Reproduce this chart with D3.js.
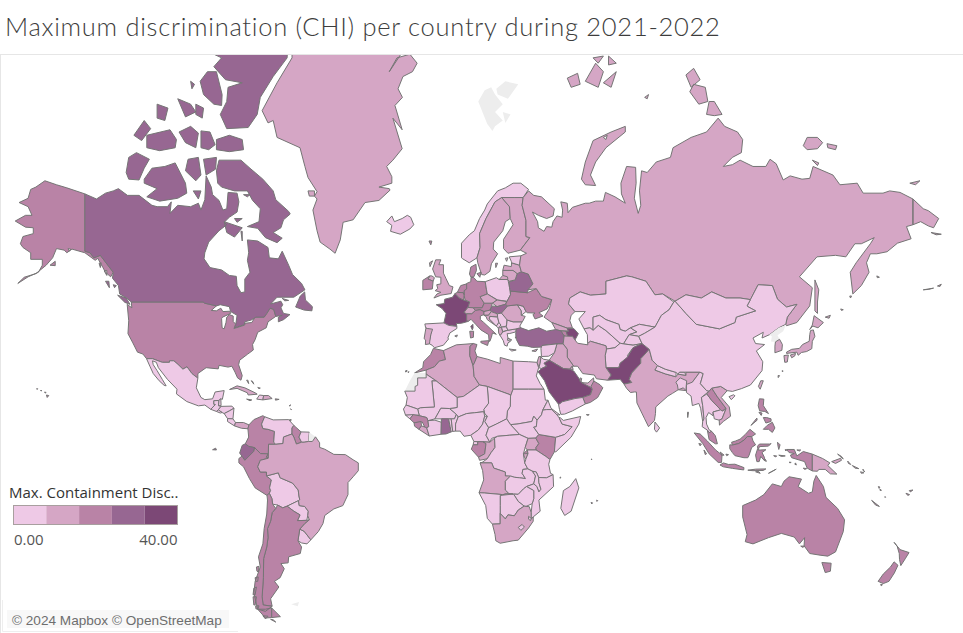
<!DOCTYPE html>
<html>
<head>
<meta charset="utf-8">
<script src="https://cdn.jsdelivr.net/npm/d3@7"></script>
<style>
  html, body { margin: 0; padding: 0; background: #fff; overflow: hidden; }
  svg { display: block; }
</style>
</head>
<body>
<div id="visual"></div>
<script>
// rows: country, max. containment discrimination (null = no data), then rings as flat lon,lat lists
const northAmerica = [
  ["United States", 21, [-141,69.6,-148,70.4,-152,70.8,-156.5,71.3,-160,70.5,-162,70.2,-163,69,-166.5,68.4,-163,67.8,-161.5,66.5,-164,66.5,-168,65.6,-164,64.6,-161,64.5,-161,63.5,-165,63,-166,61.7,-165,61,-162,60,-162,58.7,-157.5,58.7,-157.5,57.5,-159,56,-163,55,-167,53.5,-164.5,54.9,-160,55.7,-156,57.5,-153.5,59,-152,60.8,-149,60.5,-148,60,-146,60.7,-141,60,-137,58.5,-136,58.9,-134,57,-133,56,-131,55,-130,56,-135,59.5,-137.5,59,-139,60,-141,60.3],
    [-123,49,-95.15,49,-94.6,48.7,-90,48,-92,46.8,-90,46.7,-88.3,47.4,-87.5,46.5,-84.8,46.6,-84.5,46,-87.6,45,-88,44.6,-87.8,42,-87,41.7,-86.3,43.5,-86,45,-85,45.7,-83.5,45.3,-83.5,43.8,-82.5,43,-83.2,41.8,-79,42.8,-79,43.3,-76.3,43.5,-75,45,-71.5,45,-70.5,46,-69.2,47.4,-67.8,47.1,-67,45.2,-70,43.7,-70.7,42,-74,40.7,-75,38.5,-76,37,-75.7,35.3,-78,33.9,-81,32,-81.4,30.5,-80,26.8,-80.5,25.2,-81.8,26,-82.8,28,-84,30,-85.5,29.7,-89,30.3,-89.3,29.1,-94,29.5,-97.2,27.5,-97.2,25.9,-99.5,27.5,-101.4,29.8,-103,29,-104.9,30.6,-106.5,31.8,-108.2,31.8,-108.2,31.3,-111,31.3,-114.8,32.5,-117.1,32.5,-118.5,34,-120.6,34.6,-122.4,37.5,-124.3,40.3,-124,44,-124.6,48.4,-122.8,47.5],
    [-154.5,57.5,-152.5,58.3,-152.5,57.4], [-155.9,19.9,-155,19.7,-155.6,19], [-158.2,21.5,-157.7,21.4,-158,21.7], [-156.6,21,-156,20.8,-156.4,20.6], [-159.7,22.2,-159.3,22.2,-159.5,21.9], [-170.5,52.9,-169,53.3,-169.5,52.8], [-176,52,-172,52.4,-174,52.1], [-135.5,57.9,-134.7,58,-135,57], [-133.5,56.3,-132.5,56.4,-132.5,55.3], [-173,63.7,-169,63.4,-171,63.3], [-147.5,60.8,-146.5,60.7,-147,60.3]],
  ["Canada", 28, [-141,69.6,-136.5,68.9,-133,69.7,-130,70,-128,70.3,-124.5,69.4,-120,69.4,-115,68,-113,67.8,-109,67.8,-107.5,68.5,-108,66.8,-105,68,-100,67.8,-97,68.3,-96,67.3,-94.5,68.8,-94,71.9,-92,70.5,-91.5,69.5,-89,68.7,-87.5,67.3,-86,67.5,-85.5,69.8,-82,69.7,-81.3,68.5,-82,67,-85,66.2,-87,65.4,-86,65,-89,64,-93,62,-94.5,60,-94.8,58.8,-92.5,57,-88,56.5,-85,55.3,-82.3,55.1,-82,53,-80.5,51.3,-79,51.5,-79,54.5,-77,56,-78,58.5,-77.5,60,-78,62.4,-74,62.2,-70,61,-69.5,59,-66,58.8,-64.5,60.3,-62,57.5,-60.5,55.5,-57,53.5,-55.7,52,-60,50.2,-66.5,50.2,-69,48.5,-65,49.2,-64.3,48.3,-65,47.5,-64,46,-61.5,45.7,-64,44.3,-66,43.7,-66,45,-64.5,45.5,-67,45.2,-67.8,47.1,-69.2,47.4,-70.5,46,-71.5,45,-74.7,45,-76.5,44.2,-79,43.7,-79.2,42.9,-83,42,-82.5,43,-82,45.5,-84.5,46.5,-85,47.8,-88.5,48.3,-90,48,-94.6,48.7,-95.15,49,-123,49,-124.8,50,-127.5,51,-128,53,-130.3,54.7,-130,56,-135,59.5,-137.5,59,-139,60,-141,60.3],
    [-89,73.7,-80.5,73.7,-77,72.8,-72,71.5,-68,70,-67,68.8,-62,67.1,-61.4,66.7,-64,65.8,-65,64.5,-68,63.7,-64.5,62.7,-66.5,61.9,-71,62.8,-74,64.4,-78,64.7,-73.5,65.5,-73,67.5,-76,68.7,-78,70,-83,70,-85,70.2,-88,70.5,-89.5,71,-90,72.5],
    [-118,71.5,-115,72.8,-110,73,-106,73.4,-102,71,-101.5,69.7,-105,69,-112,68.6,-117,69.2,-113,70.3,-118,71],
    [-125,72.3,-124,74,-121,74.5,-116,73.8,-118,72.8,-120,71.4,-124,71.5],
    [-91,83.2,-62,83.2,-62.6,81.8,-68,80.7,-73,79.3,-74.2,78,-77.7,76.9,-86,76.8,-88.5,78,-86,79,-85.5,80,-80,80.3,-86.5,80.5,-91,81.3,-88,81.8,-91,82],
    [-96.3,80.4,-93.5,81,-90,81,-87.8,79.5,-88,78.7,-91,78.8,-95,79.5],
    [-90,75.8,-85,76.2,-80,75.8,-79.5,74.8,-85,74.6,-90,74.8],
    [-96,76.6,-92.5,76.5,-90.5,75.3,-93,74.8,-96,75],
    [-105,79.2,-100,78.8,-98,78.2,-102,77.8],
    [-98,78.8,-95,78.5,-95.5,77.7,-98,78],
    [-113,78.8,-108.8,78.5,-110,77.5,-113,77.7],
    [-122,76.2,-118,77.5,-115.5,76.8,-119,75.7],
    [-117,75,-117,76.2,-108,76.7,-105.5,75.8,-106,75,-112,74.7],
    [-104.5,76.5,-100,77,-97,76.4,-98,75,-102,75.5],
    [-102,72.5,-101,73.8,-97,74,-96,72,-98,71.3],
    [-95,73.8,-90,74,-90.3,72.7,-94,72],
    [-87,65.5,-80,64.5,-83,62.9,-86,63.7],
    [-59.3,47.7,-56,46.9,-53,46.7,-52.8,47.8,-55.5,49.5,-55.8,51.5,-57.5,50.5],
    [-128.3,50.7,-125,50,-123.5,48.4,-125.5,48.9],
    [-133,54,-131.7,54,-131.5,52.5],
    [-64.5,49.9,-62,49.4,-63.5,49.3],
    [-99,70,-96,70,-97,68.9],
    [-100,80.4,-98.5,80.2,-99.5,79.9],
    [-83,66,-80,66,-82,65.4],
    [-79.5,69.5,-77,69.5,-78,69.2],
    [-80.5,63.9,-80,63.9,-80,62.2],
    [-130,53.2,-128.8,53,-129.5,52.5]],
  ["Greenland", 13, [-60.7,82.3,-40,83.6,-25,83.3,-20,83,-18.5,82,-23,81,-20,81.8,-15,82,-12.2,81.5,-14,81,-17.7,80.7,-19.6,79.9,-17.9,79.3,-20.8,78.7,-18,76.7,-21.6,77.7,-18,74.9,-21.6,73.7,-24,73,-22,71.8,-22,71,-27,70.5,-23,70.3,-22.7,70.1,-27,68.7,-32.4,68.4,-37,65.8,-40.9,65.4,-42,62.4,-44,59.9,-46,60.7,-49.8,62,-51,64,-52.6,67.3,-51,68.9,-52,69.3,-51,69.9,-54.5,71.7,-55.7,73,-57.6,75,-66.5,76,-68,77.5,-70,77.3,-72.3,78.3,-66.5,80.3,-60.7,81.8],
    [-54.5,70,-52,70,-52,69.3,-54,69.3]],
  ["Mexico", 5, [-117.1,32.5,-114.8,32.5,-111,31.3,-108.2,31.3,-108.2,31.8,-106.5,31.8,-104.9,30.6,-103,29,-101.4,29.8,-99.5,27.5,-97.2,25.9,-97.8,22.5,-96,19,-94.5,18.2,-91.5,18.5,-90.5,21,-87,21.5,-87.7,18.3,-88.3,18.5,-89.1,17.9,-91,17.8,-91,16.5,-90.4,16.4,-92.2,14.6,-94.5,16.2,-97,15.9,-101.5,17.5,-105.5,20.3,-105.3,22,-109,25.5,-112.5,29.5,-113.3,31.3,-114.8,31.8,-114.5,30.5,-113,28.5,-111,25.5,-109.5,23.2,-110.3,23.4,-112.2,25,-114.5,27.5,-115.8,30]],
  ["Belize", 4, [-89.1,17.9,-88.3,18.5,-88.2,16,-89.2,15.9]],
  ["Guatemala", 5, [-92.2,14.6,-90.4,16.4,-91,16.5,-91,17.8,-89.1,17.9,-89.2,15.9,-88.2,15.7,-89.3,14.4,-90,13.8]],
  ["Honduras", 6, [-88.2,15.7,-84,15.8,-83.2,15,-85,14,-87,13,-87.8,13.4,-89.3,14.4]],
  ["El Salvador", 5, [-90,13.8,-89.3,14.4,-87.8,13.4,-88.5,13.2]],
  ["Nicaragua", 5, [-87,13,-85,14,-83.2,15,-83.6,11,-85.7,11.1]],
  ["Costa Rica", 6, [-85.7,11.1,-83.6,11,-82.6,9.6,-83,8.3,-85.7,10]],
  ["Panama", 14, [-83,8.3,-82.6,9.6,-79.5,9.6,-77.4,8.7,-77.8,7.2,-80.3,7.4]],
  ["Cuba", 13, [-84.9,21.9,-82,23.2,-79,22.5,-75,20.7,-74.2,20.2,-77.7,19.9,-78,20.7,-82,22.3]],
  ["Haiti", 6, [-74.4,18.4,-72,18.1,-71.7,19.7,-73.3,19.9]],
  ["Dominican Republic", 14, [-71.7,19.7,-72,18.1,-68.4,18.6,-69.8,19.7]],
  ["Jamaica", 14, [-78.3,18.4,-76.3,18.1,-77,17.8]],
  ["Puerto Rico", 21, [-67.2,18.5,-65.7,18.3,-67.1,18]],
  ["Bahamas", 14, [-78.3,25.2,-77.5,24,-77.8,25.2], [-76.5,25,-75.5,23.8,-76,24.8], [-74,22.6,-73,22.4,-73.5,22.2], [-61.8,15.9,-61.3,16.3,-61.4,15.9], [-61.3,14.8,-60.9,14.5,-61,14.4], [-61.7,10.7,-61,10.7,-61.3,10.1]]
];

const southAmerica = [
  ["Colombia", 22, [-77.4,8.7,-75.5,10.7,-72,12.2,-71.3,11.8,-72.5,9,-72,7.3,-70,7,-67.5,6.2,-67.8,2,-67,1.2,-69.8,1.2,-69.9,-4.2,-70.7,-3.8,-70,-2.5,-72.9,-2.4,-75.2,-0.1,-77.5,0.4,-78.8,1.4,-77.5,4,-77.8,7.2]],
  ["Venezuela", 6, [-71.3,11.8,-68,10.6,-62,10.7,-60,8.5,-60.7,7.5,-60.7,5.2,-64,4,-64.2,1.5,-67,1.2,-67.8,2,-67.5,6.2,-70,7,-72,7.3,-72.5,9]],
  ["Guyana", 20, [-60,8.5,-57.2,6,-58,4,-57,2,-59,1.3,-60,4,-60.7,5.2,-60.7,7.5]],
  ["Suriname", 5, [-57.2,6,-54,5.9,-54.3,2.3,-56,2,-57,2,-58,4]],
  ["French Guiana", null, [-54,5.9,-51.6,4.1,-52.8,2.3,-54.3,2.3]],
  ["Ecuador", 29, [-80.1,-3.4,-81,-2.2,-80,0.8,-78.8,1.4,-77.5,0.4,-75.2,-0.1,-75.5,-1.5,-78.5,-4.5,-79,-5], [-91.5,-0.9,-90.3,-0.3,-90,-1]],
  ["Peru", 21, [-80.1,-3.4,-79,-5,-78.5,-4.5,-75.5,-1.5,-75.2,-0.1,-72.9,-2.4,-70,-2.5,-70.7,-3.8,-69.9,-4.2,-73,-5,-74,-7.5,-73,-9.5,-70.6,-9.5,-70.6,-11,-68.7,-12.5,-69.4,-15.5,-69,-16.5,-69.5,-17.5,-70.4,-18.3,-75,-15.5,-77.2,-12,-79.5,-7.5,-81.3,-6,-81.3,-4.3]],
  ["Bolivia", 5, [-70.6,-11,-66,-9.8,-65.3,-11.7,-60.5,-13.7,-58.3,-16.3,-58,-18.5,-57.7,-19.9,-58.2,-20.2,-62.6,-22.2,-64.3,-22.8,-66.3,-21.8,-68.2,-21.5,-68.5,-19.5,-69.5,-17.5,-69,-16.5,-69.4,-15.5,-68.7,-12.5]],
  ["Paraguay", 6, [-58.2,-20.2,-57.9,-22,-55.8,-22.3,-54.4,-24,-54.6,-25.6,-55,-27.2,-58.6,-27.3,-57.6,-25.3,-60,-24,-62.6,-22.2]],
  ["Uruguay", 5, [-58.4,-34,-57.7,-30.2,-56,-30.9,-53.4,-33.7,-54.9,-35,-57,-34.7]],
  ["Brazil", 14, [-51.6,4.1,-50,1.8,-50,0,-48,-0.7,-44.5,-2.7,-40,-2.8,-37,-4.8,-35,-6,-35,-9,-37,-11.3,-39,-13.5,-39,-18,-41,-22,-44.5,-23.2,-48,-25.5,-48.7,-28.3,-50.5,-31,-53.4,-33.7,-56,-30.9,-57.7,-30.2,-55.8,-28.3,-54,-27,-54.6,-25.6,-54.4,-24,-55.8,-22.3,-57.9,-22,-58.2,-20.2,-57.7,-19.9,-58,-18.5,-58.3,-16.3,-60.5,-13.7,-65.3,-11.7,-66,-9.8,-70.6,-11,-70.6,-9.5,-73,-9.5,-74,-7.5,-73,-5,-69.9,-4.2,-69.8,1.2,-67,1.2,-64.2,1.5,-64,4,-60.7,5.2,-60,4,-59,1.3,-57,2,-56,2,-54.3,2.3,-52.8,2.3]],
  ["Argentina", 21, [-66.3,-21.8,-64.3,-22.8,-62.6,-22.2,-60,-24,-57.6,-25.3,-58.6,-27.3,-55,-27.2,-54,-27,-55.8,-28.3,-57.7,-30.2,-58.4,-34,-57,-36,-57.5,-38,-62,-39,-62.2,-40.8,-65,-41,-63.7,-42.5,-65.3,-45,-67.5,-46,-65.8,-47.5,-69,-50.5,-68.4,-52.3,-71.9,-52,-72.3,-50,-71.8,-45,-71.7,-39.5,-70.5,-36,-70,-33,-70.2,-30,-69,-27.5,-68.4,-24.5,-67,-23], [-68.6,-52.7,-65.2,-54.7,-68.6,-54.9]],
  ["Chile", 22, [-69.5,-17.5,-68.5,-19.5,-68.2,-21.5,-67,-23,-68.4,-24.5,-69,-27.5,-70.2,-30,-70,-33,-70.5,-36,-71.7,-39.5,-71.8,-45,-72.3,-50,-71.9,-52,-68.4,-52.3,-71,-53.5,-74,-53,-75.5,-49,-75,-46,-73,-42,-73.7,-39,-72,-35,-71.5,-30,-70.5,-25,-70.2,-20,-70.4,-18.3],
    [-68.6,-52.7,-68.6,-54.9,-71,-55,-74,-53,-71,-53], [-69,-55.3,-67,-55.9,-68,-55.4], [-74.5,-42,-73.5,-41.8,-73.7,-43.4,-74.3,-43.2], [-75.5,-47.8,-74.5,-47.5,-75,-49.5,-75.8,-49.5], [-75.8,-50,-74.5,-50,-75,-52,-75.5,-52], [-74.8,-52.2,-73.5,-52.2,-74,-53,-74.7,-52.9], [-72,-54.5,-70,-54.6,-71,-55.2], [-75,-45,-73.8,-44.8,-74,-46,-74.8,-46]],
  ["Falkland Islands", null, [-61,-51.8,-58,-51.3,-58.5,-52.3]]
];

const europe = [
  ["Iceland", 5, [-24,65.5,-22,66.4,-21,65.5,-18,66,-16,66.5,-14.7,66.2,-13.5,65,-15,64.3,-18.7,63.4,-22.5,63.9,-22,64.9]],
  ["Norway", 6, [5,59,5,61.8,8,63.3,10,64,12,66,14,67.3,15,68.2,19,70,22,70.4,25,71,28,71,31,70.2,28.9,69.1,25.7,69.1,20.6,69.1,18,68.5,14.5,66,12,63.5,12.2,61,11,59,8,58,5.5,58.8]],
  ["Svalbard", null, [11.5,79,14,79.8,16.5,80,18,79.5,21,78.8,18,78.2,21,77.5,18,77,17,76.6,15,77.2,13.5,78], [18.5,79.9,22,80.4,27,80.2,23,79.2,19,79.5], [21,78.2,24,78,22,77.3]],
  ["Sweden", 13, [11,59,12.2,61,12,63.5,14.5,66,18,68.5,20.6,69.1,23.6,67.8,23.9,66,22,65.5,21,64,17.5,62,17.3,60.7,19,59.8,16.6,57.8,16,56.2,14,55.4,12.8,55.5,11.3,58], [18.2,57.9,19,57.9,18.3,57]],
  ["Finland", 14, [20.6,69.1,25.7,69.1,28.9,69.1,28.5,68,30,65.7,30,63,31.5,62.8,27.8,60.5,23,59.9,21.3,60.8,21.3,62.5,25,65,23.9,66,23.6,67.8]],
  ["Denmark", 20, [8.6,57.1,10.6,57.7,10.8,56.4,9.8,55,8.7,54.9,8.1,55.6], [11,55.7,12.6,56,12.1,54.9]],
  ["Faroe Islands", 21, [-7.6,62.2,-6.5,62.2,-6.9,61.5]],
  ["United Kingdom", 13, [-5.7,50,-3,50.7,1,51.1,1.7,52.7,0.3,53,-1,54.6,-2,55.8,-2,57.6,-3.8,57.6,-3,58.6,-5,58.6,-6.2,56.7,-5,55,-3,54.9,-3,53.4,-4.6,53.2,-4.2,52.3,-5.2,51.8,-3,51.4,-4.5,51], [-8,54.5,-6,54,-5.5,54.8,-6.5,55.2,-7.3,55.2], [-7.4,58,-6.2,58.4,-7.2,57.2]],
  ["Ireland", 21, [-10,52,-6.3,52.2,-6,54,-8,54.5,-7.3,55.2,-10,54.2]],
  ["France", 37, [-1.8,43.4,-1,46,-2.5,47.3,-4.8,48.3,-1.7,48.6,-1.5,49.7,1.5,50.2,2.5,51.1,4.2,50,5.8,49.5,8.2,49,7.5,47.6,6,46.3,7,45.9,7,44.2,7.5,43.8,5,43.3,3,43.2,3.2,42.4,0,42.7], [8.6,42.4,9.4,43,9.5,42,9.2,41.4]],
  ["Spain", 6, [-9.2,43.1,-1.8,43.4,0,42.7,3.2,42.4,3.2,41.8,0.5,40.5,-0.3,39,0,38.7,-2,36.8,-5.5,36,-6.4,36.8,-7.4,37.2,-7.5,38,-7,39.7,-6.8,41,-8.2,41.8,-8.9,42], [2.4,39.6,3.4,39.9,3.1,39.3], [-16.9,28.3,-16.1,28.6,-16.5,28], [-15.8,28.1,-15.3,28.1,-15.6,27.8]],
  ["Portugal", 13, [-8.8,41.9,-8.2,41.8,-6.2,41.6,-6.9,40,-7.3,38,-7.4,37.2,-9,37,-8.9,38.4,-9.5,38.8]],
  ["Germany", 21, [7,53.5,8.6,53.9,8.7,54.9,9.8,54.8,11,54,14.2,53.9,14.7,52,15,51,12.2,50.3,13.8,48.7,13,47.5,9.6,47.5,7.5,47.6,8.2,49,6.4,49.5,6,50.7,6,51.8]],
  ["Netherlands", 21, [3.4,51.4,4.7,53,7,53.4,7,52.2,6,51.8,6,50.8,5.7,51.3]],
  ["Belgium", 21, [2.5,51.1,3.4,51.4,5.7,51.3,6,50.7,5.8,49.5,4.2,50]],
  ["Switzerland", 13, [6,46.3,7.5,47.6,9.6,47.5,10.4,46.8,9,45.9,7,45.9]],
  ["Austria", 21, [9.6,47.5,13,47.5,13.8,48.7,17,48.7,16.1,46.9,13.7,46.5,12.2,47,10.4,46.8]],
  ["Italy", 22, [7,45.9,9,45.9,10.4,46.8,12.2,47,13.7,46.5,13.7,45.7,12.3,45.3,12.3,44.3,13.5,43.6,16,41.9,18.5,40.1,17,40.5,16.6,39.2,16,38,15.7,38,15.5,40,12.5,41.4,10.5,43,8.7,44.4,7.5,43.8,7,44.2], [12.5,38,15.6,38.2,15.1,36.7,12.5,37.6], [8.2,41,9.7,41,9.6,39.2,8.5,39]],
  ["Poland", 6, [14.2,53.9,18.5,54.8,19.6,54.4,23,54.4,23.6,52.6,24,50.8,22.7,49.2,19,49.5,15,51,14.7,52]],
  ["Czechia", 14, [12.2,50.3,15,51,18.8,49.5,17,48.7,13.8,48.7]],
  ["Slovakia", 13, [17,48.7,18.8,49.5,22.5,49.1,22,48.4,18.8,47.8]],
  ["Hungary", 29, [16.1,46.9,17,48,18.8,47.8,22,48.4,22.9,48,21,46.2,18.9,45.9,16.5,46.5]],
  ["Slovenia", 14, [13.7,46.5,16.1,46.9,16.5,46.5,15.5,45.5,13.7,45.5]],
  ["Croatia", 14, [13.7,45.5,15.5,45.5,16.5,46.5,18.9,45.9,19,45,16,45.2,15.8,44.5,18.5,42.5,15,44.3,14.5,45.2]],
  ["Bosnia and Herzegovina", 6, [16,45.2,19,45,19.5,43.5,18.5,42.5,15.8,44.5]],
  ["Serbia", 6, [18.9,45.9,20.5,46.1,22.7,44.5,22.4,42.5,20.5,42.2,19.5,43.5,19,45]],
  ["Montenegro", 6, [18.5,42.5,19.5,43.5,20.3,42.8,19.3,41.9]],
  ["Albania", 13, [19.3,41.9,20.5,42.2,21,40.8,20,39.7,19.4,40.5]],
  ["North Macedonia", 5, [20.5,42.2,22.4,42.3,23,41.3,21,40.9]],
  ["Greece", 6, [21,40.8,23,41.3,26.3,41.7,26,40.8,23.5,40.3,22.7,40.3,23,39,22.8,38.3,24,38,23,37.5,22.7,36.5,21.7,36.8,21.2,38.2,20,39.7], [23.5,35.6,26.2,35.3,24.5,34.95], [25.8,39.3,26.6,39.3,26.1,38.9], [23,39,24.5,38.4,23.7,38.3]],
  ["Bulgaria", 5, [22.7,44.2,25,43.7,28.5,43.7,27.6,42.5,28,42,26.3,41.7,23,41.3,22.4,42.3]],
  ["Romania", 14, [20.5,46.1,22.9,48,26.6,48.3,28.2,46.7,28.2,45.5,29.7,45.2,28.6,43.7,25,43.7,22.7,44.2]],
  ["Moldova", 6, [26.6,48.3,29,47.9,30,46.5,28.2,45.5,28.2,46.7]],
  ["Ukraine", 21, [22.1,48.4,22.7,49.2,24,50.8,24,51.7,30.6,51.3,34,52.3,36,50.4,40,49.6,38.2,47.2,35,46.2,36.6,45.3,33.5,44.5,32.7,45.7,33.5,46.1,30.5,46.2,30,46.5,29,47.9,26.6,48.3,22.9,48]],
  ["Belarus", 29, [23.6,52.6,23.5,53.9,25.8,54.3,26.6,55.7,28.2,56.1,30.9,55.6,32.7,53.4,30.8,52,30.6,51.3,24,51.7]],
  ["Lithuania", 14, [21,55.3,21,56.4,25,56.4,26.6,55.7,25.8,54.3,23.5,54]],
  ["Latvia", 13, [21,56.4,21.5,57.5,24.3,57.2,24.4,58,27.5,57.5,28.2,56.1,26.6,55.7,25,56.4]],
  ["Estonia", 6, [23.5,59.2,28,59.4,27.5,57.5,24.4,58,24.3,58.3], [22,58.9,23,59,22.5,58.3]]
];

const asia = [
  ["Russia", 13, [28,59.4,30.2,59.9,27.8,60.5,31.5,62.8,30,63,30,65.7,28.5,68,28.9,69.1,31,70,33,69.4,36,69.2,41,67.5,40.5,66.4,38,66,34.8,66.5,32.5,67,34.5,65.5,34.8,64.5,37,63.9,38,64.7,40,64.6,40.5,65.5,42,66.4,44,66.2,44.2,67.3,43.5,68.5,46,68.3,46.3,66.9,48,67.7,53,68.3,54.5,68.3,57,68.6,60,68.6,60.8,69.8,64.5,69.2,68.5,68.3,67,69.6,66.8,71,69,73,72.5,72.9,72.7,71,72,69,73.5,66.8,74.5,68,74,70,74.8,72.5,77,72.3,80.5,73.5,86,74,87,75,94,76,100,76.5,104.5,77.7,107,77,112,76.5,114,75.8,113.5,74.5,110,74,106.5,73,110,73.2,113,73.7,118,73,123,73,124.6,73.8,127,73.3,129.7,71.4,132.4,71.9,137,71.5,140,71.6,141.3,73,149,72,151.7,70.8,158.4,71,160.7,69.7,168.4,69.7,171,70,175,69.8,180,68.9,180,65,177.5,64.7,179.3,62.6,174,61.8,170,60.2,166,59.8,163.5,59.8,162,58,163,56,160,53,156.7,51,155.7,56,158,58,163.5,61.7,165,62.8,160,61.7,157.5,61.7,154,59.2,150,59.5,142.8,59.2,136,55,141,52.5,140,48,135,43.5,131,42.6,130.7,43,131.3,45,135,48.4,131,47.7,127.5,49.7,125.5,53,120,53.2,117,49.6,113,50,107.5,50,102,51.5,98,50,92,50.8,87.8,49.2,83,51,80,50.8,76.5,54,71,55,69,55.2,61,54,61,51,55,50.7,51,51.5,47,50,46.5,48.5,49,46.5,47.5,45.5,47,44,48,42,46,41.9,40,43.5,37,45,39,47.2,40,49.6,36,50.4,34,52.3,30.8,52,32.7,53.4,30.9,55.6,28.2,56.1,27.5,57.5],
    [180,68.9,184,67.5,186,67.2,190,66,188,64.5,186,64.8,183,65.5,180,65],
    [51.5,71.5,53,70.8,57,70.7,55,72,57,73.5,61,75,68.5,76.5,68.5,77,63,76.5,56,75.7,53,73.5],
    [92,80.8,95,81.2,97.5,80.5,94,80], [93.5,79.7,95,80.2,99.5,80,100.5,79,97,78.8], [100,78,101,79,103,79,106,78,103,77.9],
    [137.5,75.2,139,76,143,76,145,75.5,143,74.9,139,74.8], [146.7,75.4,150.5,75.2,150,74.8,147,75], [141,73.7,143.5,73.4,143,73.1],
    [178.8,71,182.7,71.3,181,70.8],
    [142,54.3,143.5,52,143,49,143,46,142,46.7,142,50],
    [46,80.6,50,80.9,51,80.2,47.5,80], [53,80.4,57,81.5,60,81,58,80], [60,80.3,65,81,63,80], [56,81.8,60,81.9,58,81.5], [62,81.9,65,81.5,62,81.4],
    [19.6,54.4,23,54.4,22.8,55,21,55.3],
    [146,45,148,45.5,147.5,44.7], [152,47.2,153,47,152.3,46.8], [155.5,50.5,156.2,50.5,155.8,50], [166,55.2,167,54.9,166.2,54.8], [76,79.3,77.5,79.5,77,79.2], [60,76,61.5,76.2,61,75.8]],
  ["Georgia", 13, [40,43.5,46,41.9,46.5,41,43,41.2,41.5,41.5]],
  ["Armenia", 21, [43.5,41.1,45.5,41,46.5,39,44.8,39.6]],
  ["Azerbaijan", 36, [46,41.9,48.5,41.8,50.3,40.3,49,38.4,48,39.5,46.5,39,45.5,41,46.5,41]],
  ["Turkey", 29, [26,40.1,26.3,41.7,28,42,31,41.2,35,42,38,41,41.5,41.5,43.5,41.1,44.8,39.6,44.4,37.2,42,37.2,36.2,36.7,36,36.2,32.5,36.1,30.5,36.5,27.5,36.7,26.3,38.5]],
  ["Cyprus", 14, [32.3,35,34.5,35.6,33.8,34.8]],
  ["Kazakhstan", 6, [47,50,51,51.5,55,50.7,61,51,61,54,69,55.2,71,55,76.5,54,80,50.8,83,51,87.3,49,85.5,47,82.5,45.5,80,42.2,74,43,70.5,42,68.5,41,66.5,41.5,66,43,61,44.3,58.6,45.5,56,45,56,41.3,54.8,42,52.5,41.7,50.5,44.5,53,46.5,49,46.5,46.5,48.5]],
  ["Turkmenistan", 5, [52.5,41.7,54.8,42,56,41.3,58,42.7,61,41.2,66.5,37.4,64.5,36,61.2,35.6,61,36.6,55,38,53.9,37.3,53.8,40]],
  ["Uzbekistan", 6, [56,45,58.6,45.5,61,44.3,66,43,66.5,41.5,68.5,41,70.5,42,73,40.8,70,40,67.8,37.2,66.5,37.4,61,41.2,58,42.7,56,41.3]],
  ["Kyrgyzstan", 5, [70.5,42,74,43,80,42.2,76,40.4,73.7,39.5,70,40,73,40.8]],
  ["Tajikistan", 6, [70,40,73.7,39.5,75,37.3,71.5,36.8,67.8,37.2]],
  ["Afghanistan", 5, [61.2,35.6,64.5,36,66.5,37.4,67.8,37.2,71.5,36.8,75,37.3,71.5,36,69.3,33.5,70,33,66.5,31,66,29.5,61,29.5,60.7,33.5]],
  ["Pakistan", 38, [66,29.5,66.5,31,69.3,33,71.5,36,75,37.3,77.8,35.5,74.5,32.5,74.5,31,71,27.7,70,25.5,71,24.4,68,23.8,66.5,25.5,61.6,25.2,63,27,61,29.5]],
  ["Iran", 14, [44.8,39.6,48,39.5,49,38.4,50,37.4,54,36.9,53.9,37.3,55,38,61,36.6,61.2,35.6,60.7,33.5,61,29.5,63,27,61.6,25.2,57.3,25.7,56.5,27,52,27.5,50,30,48.5,30,46,33,46,35.5,44.4,37.2]],
  ["Iraq", 13, [44.4,37.2,46,35.5,46,33,48.5,30,47.9,30,47,29,44.5,29.2,39,32,41,34.4,42,37.2]],
  ["Syria", 6, [36.2,36.7,42,37.2,41,34.4,38.8,33.3,36,33.2,35.8,35.8]],
  ["Israel", 14, [34.3,31.3,35,33.2,35.8,33.2,35.5,31,35,29.5]],
  ["Jordan", 6, [35.5,31,35.8,33,36.8,32.3,39,32,37,31,38,30,36,29.2,35,29.5]],
  ["Saudi Arabia", 37, [36,29.2,38,30,37,31,39,32,44.5,29.2,47,29,48.5,28.4,50.1,26.4,51.4,24.6,55,22.7,55.7,22,55,20,52,19,49,18.6,44,17.4,43.2,16.7,42.6,16.5,39,21,37.2,25,34.7,28.1]],
  ["Kuwait", 14, [47,29,47.9,30,48.3,28.9]],
  ["Qatar", 14, [51,26,51.6,25.8,51.3,24.6,50.9,24.8]],
  ["United Arab Emirates", 14, [51.6,24.3,54,24.2,56.2,26,56.3,24.9,55.7,22.8,55,22.7]],
  ["Oman", 22, [56.3,24.9,58.7,23.6,59.8,22.5,57.8,19,55,17.2,53,16.6,52,19,55,20,55.7,22,55.2,23]],
  ["Yemen", 6, [42.6,16.5,43.2,16.7,44,17.4,49,18.6,52,19,53,16.6,48,14,45,12.8,43.5,12.7,43,14.5], [53.4,12.6,54.5,12.6,54,12.3]],
  ["India", 14, [68,23.8,71,24.4,70,25.5,71,27.7,74.5,31,74.5,32.5,77.8,35.5,78.9,32,81,30.2,80,28.7,84,27.4,88.1,26.4,88.9,27.3,92,26.9,92,28,97.4,28,94.5,24.5,93.3,22,92,21.5,89,21.8,86.8,20.5,85,19.5,80.3,15.5,80.2,13,79.8,10.4,77.5,8,76,11,73,17,72.8,21,72,21,70.5,20.8,69,22.3], [92.6,13.5,93,13.5,92.7,11.5]],
  ["Bangladesh", 6, [88.1,24.5,89.8,26,92.3,25,92,21.5,91,22.5,89,21.8,88.7,23.5]],
  ["Nepal", 6, [80,28.7,84,27.4,88.1,26.4,88.2,27.9,84,29,81,30.2]],
  ["Bhutan", 6, [88.9,27.3,92,26.9,91.5,28,89.5,28]],
  ["Sri Lanka", 5, [80,9.8,81.8,7.5,80.6,5.9,79.8,7]],
  ["Myanmar", 6, [92.2,20.8,92.2,23.7,94.5,24.5,97.4,28,98.7,27.5,97.6,24,100,21.5,101,21.3,98,19,98.5,16,99,11,98.5,10,97.7,15,97,16.8,94.5,16,94,19.5]],
  ["Thailand", 6, [98,19,100.1,20.3,102,17.9,105.5,14.4,102.5,13.6,102.5,12.2,100.8,13.4,99.8,11.5,100,9,101,6.8,102,6.2,101,5.7,100.3,6.7,98.3,8,98.5,10,99,11,98.5,16]],
  ["Laos", 21, [100.1,20.3,101,21.3,102,22.4,104,19.5,107.5,15,106,13.9,105.5,14.4,102,17.9]],
  ["Cambodia", 6, [102.5,13.6,105.5,14.4,106,13.9,107.5,14.7,106,11,104.9,10.5,103,11]],
  ["Vietnam", 13, [102,22.4,105.5,23,108,21.5,105.7,19,108.8,15.5,109.3,12,106.5,10,105,8.6,104.9,10.5,106,11,107.5,14.7,107.5,15,104,19.5]],
  ["China", 6, [73.7,39.5,76,40.4,80,42.2,82.5,45.5,85.5,47,87.3,49,87.8,49.2,92,46,96,43,105,41.7,111,43.5,111.5,45,119,46.7,116,47.8,115.7,48,117,49.6,120,53.2,125.5,53,127.5,49.7,131,47.7,135,48.4,131.3,45,130.7,43,128,42,124.4,40,121.5,39,122,40.7,118,39,119,37.3,122.5,37,119.3,35,121.8,31.5,121.5,28.5,117,23.5,113.5,22.2,110,21.2,108,21.5,105.5,23,102,22.4,101,21.3,100,21.5,97.6,24,98.7,27.5,97.4,28,92,28,91.5,28,89.5,28,88.9,27.3,88.2,27.9,84,29,81,30.2,78.9,32,77.8,35.5,75,37.3], [108.7,19.3,110.5,20,111,19.6,109.6,18.2]],
  ["Mongolia", 5, [87.8,49.2,92,50.8,98,50,102,51.5,107.5,50,113,50,117,49.6,115.7,48,116,47.8,119,46.7,111.5,45,111,43.5,105,41.7,96,43,92,46]],
  ["Taiwan", 14, [121,25,122,25,120.8,22,120.1,23]],
  ["North Korea", null, [124.4,40,128,42,130.7,42.7,129.7,41,127.5,39.8,128.3,38.6,126.7,37.8,125,37.9,125.3,39.5]],
  ["South Korea", 14, [126.7,37.8,128.3,38.6,129.4,37,129.2,35.2,126.5,34.4,126.5,36.5]],
  ["Japan", 13, [141.4,41.4,142,39.5,141,38,140.8,35.7,138.8,34.8,136.8,34.5,135.5,33.6,135,34.6,131,34.2,131,34.6,133,35.5,136,35.8,137.2,37,139.8,38,140,40,140.3,41.2], [140,41.5,141,42.8,141.7,45.4,145.3,43.5,143.2,42,141.2,42.5], [130,33.5,131.7,33.7,131.3,31.4,130.3,31.3], [132.5,33.7,134.5,34.2,134.2,33.4,133,32.8], [127.7,26.8,128.3,26.8,127.8,26.1], [129.3,28.5,129.7,28.4,129.4,28.1]],
  ["Philippines", 21, [120.5,18.5,122.2,18.4,122,16,124,13,122.6,13.8,120.6,14,120,16], [122,7,123.5,8.5,125.5,9.7,126.5,7.5,125.5,5.8,124,7], [122,11.5,123.3,11.5,125,11,125,10,123,9.4], [117.2,8.5,119.5,11.3,119.6,10.5], [120.3,13.5,121.5,13.2,121.2,12.3]],
  ["Malaysia", 22, [100.3,6.7,101,5.7,102,6.2,103.4,4.5,104.2,1.4,103.4,1.4,101,3], [109.7,2,111.3,2.5,113,3.2,115,5,116.8,7,119,5.2,117.5,4.2,115.8,4.2,114.5,2.8,112.5,1.5,110,0.9]],
  ["Indonesia", 21, [109,1,110,0.9,112.5,1.5,114.5,2.8,115.8,4.2,117.5,4.2,118,2.5,119,1,117.5,0,116.5,-3,116,-4,114.5,-4,111,-3.2,110,-2,109,-0.5],
    [95.2,5.6,97.5,5.2,100.3,2.5,103.5,-1,106,-3,105.8,-5.8,104.5,-5.8,101,-2.5,98.5,1.5],
    [105.2,-6.8,106.5,-6,108.5,-6.6,111,-6.5,114.5,-7.8,114.4,-8.7,110,-8.1,106.5,-7.5],
    [119.8,0.5,120.5,1.3,124.5,1.3,125,1.5,124,0.5,120.5,0.3,120,-1,121,-1,123,-0.9,121.5,-2,122.5,-4,122.5,-5.2,121,-3.5,120.4,-5.5,119.5,-5.5,119,-3,119.8,-0.5],
    [116,-8.8,119,-8.4,123,-8.3,122,-8.9,118,-9],
    [124,-10,127,-8.4,125,-9.5],
    [127.5,2,128.5,1,128,-0.8,127.7,0.5],
    [128,-3,130.5,-3.3,129,-3.5],
    [131,-0.8,134,-0.8,135,-3.3,137.5,-1.6,141,-2.6,141,-9.1,139,-8,138,-5.5,133,-4,132.5,-3,134,-2.4,132,-2],
    [97,1.5,98,1.3,97.5,0.6], [99,-1,100,-2.5,99.5,-2.8], [105.3,-1.8,106.8,-3,105.8,-3], [107.5,-2.6,108.5,-2.8,107.8,-3.2], [126,-3.2,127.2,-3.3,126.8,-3.7], [119,-9.4,120.8,-10,120.2,-9.3], [122.8,-4.6,123.2,-5.4,122.6,-5.2], [135,-1,136.5,-1,136,-1.4], [130.5,-0.8,131,-1,130.7,-1.4], [134.5,-6,134.8,-6.8,134.2,-6.5], [137.5,-8,138.8,-8.2,138,-8.5], [132,-5.7,132.8,-5.8,132.3,-6]]
];

const africa = [
  ["Morocco", 21, [-5.9,35.8,-2,35.1,-1.2,32.2,-3.6,31.7,-5.5,29.8,-8.7,28.7,-13.2,27.7,-10,29.5,-9.7,31.5,-7,33.8]],
  ["Western Sahara", null, [-8.7,27.7,-13.2,27.7,-15,25,-17,21.3,-13,21.3,-13,23,-12,23.4,-12,26,-8.7,26]],
  ["Algeria", 14, [-2,35.1,3,36.9,9.6,37.3,8.3,36.5,8.2,33.5,9.5,30.2,9.9,26.5,12,23.5,5.8,19.4,3.3,19,-4.9,25,-8.7,27.3,-8.7,28.7,-5.5,29.8,-3.6,31.7,-1.2,32.2]],
  ["Tunisia", 21, [9.6,37.3,11,37,10.2,35,11,33.2,10.3,31.7,9.5,30.2,8.2,33.5,8.3,36.5]],
  ["Libya", 14, [11,33.2,15.2,32.3,20,30.9,20,32.9,25,31.7,25,22,24,19.5,23.9,20,15,23,12,23.5,9.9,26.5,9.5,30.2,10.3,31.7]],
  ["Egypt", 6, [25,31.7,31,31.5,34.2,31.3,34.9,29.5,34,26.7,35.5,24,37,22,31,22,25,22]],
  ["Sudan", 6, [25,22,31,22,37,22,37.5,18,38.5,18,36.5,14.3,36,12.5,34.3,10.5,33,12,32.3,10,26.5,9,24,8.8,22.5,11,22.8,14,23.9,15.7,24,19.5]],
  ["South Sudan", 5, [24,8.8,26.5,9,32.3,10,33,12,34.3,10.5,34,8,33,7.8,35,5,33.8,3.6,30.8,3.5,27.5,5]],
  ["Chad", 6, [15,23,23.9,20,24,19.5,23.9,15.7,22.8,14,22.5,11,18.5,9,15.5,7.6,14,10,15,12,14,13,13.6,14.5,15.5,16.9]],
  ["Niger", 5, [12,23.5,15,23,15.5,16.9,13.6,14.5,14,13,13.6,13.7,10,13.3,7,13,3.7,11.7,3,12.7,0.3,14.9,3.3,15.3,3.3,19,5.8,19.4]],
  ["Mali", 6, [-4.9,25,3.3,19,3.3,15.3,0.3,14.9,-3,15,-5.3,11,-8,10.3,-8.5,11.5,-11.4,12.2,-12,14.7,-11,15.2,-5.5,15.5,-6.5,25]],
  ["Mauritania", 5, [-8.7,27.3,-4.9,25,-6.5,25,-5.5,15.5,-11,15.2,-12,14.7,-16.5,16.2,-16,19,-17,21.3,-13,21.3,-13,23,-12,23.4,-12,26,-8.7,26]],
  ["Senegal", 6, [-17.5,14.7,-16.5,16.2,-12,14.7,-11.4,12.4,-16.7,12.4]],
  ["Guinea-Bissau", 5, [-16.7,12.4,-13.7,12.6,-15,11]],
  ["Guinea", 21, [-15,11,-13.7,12.6,-11.4,12.2,-8.5,11.5,-8,10.3,-7.7,8,-9,7.3,-10.2,9.8,-12.7,9.6,-13.4,9.5]],
  ["Sierra Leone", 22, [-13.4,9.5,-12.7,9.6,-10.7,10,-10.5,8.3,-11.5,7,-13.2,8.2]],
  ["Liberia", 14, [-11.5,7,-10.5,8.3,-8.5,7.6,-7.5,4.4]],
  ["Ivory Coast", 6, [-8.5,7.6,-7.7,8,-8,10.3,-5.3,10.5,-2.8,9.7,-2.9,5.1,-7.5,4.4]],
  ["Burkina Faso", 5, [-5.3,11,-3,15,0.3,14.9,3,12.7,2.3,11,-2.8,11]],
  ["Ghana", 30, [-2.9,5.1,-2.8,11,0,11,0.6,8,1,6,-1,5.2]],
  ["Togo", 6, [0,11,1,11,1.6,6.2,1,6,0.6,8]],
  ["Benin", 5, [1,11,2.3,11,3,12.7,3.7,11.7,2.7,9,2.7,6.3,1.6,6.2]],
  ["Nigeria", 6, [2.7,6.3,2.7,9,3.7,11.7,7,13,10,13.3,13.6,13.7,14,12,13.2,9,11.5,6.7,8.6,4.7,6,4.3,4.5,6.3]],
  ["Cameroon", 5, [8.6,4.7,11.5,6.7,13.2,9,14,12,15,12,14,10,15.5,7.6,14.5,4.7,16,2,13,2.2,9.8,2.3]],
  ["Central African Republic", 6, [15.5,7.6,18.5,9,22.5,11,24,8.8,27.5,5,23.5,4.7,19,4.3,16.7,3.5,16,2,14.5,4.7]],
  ["Equatorial Guinea", 6, [9.8,2.3,11.3,2.2,11.3,1,9.5,1]],
  ["Gabon", 21, [9.5,1,11.3,1,11.3,2.2,13.3,2.2,14.5,1.5,14,-2.5,11.6,-3.8,8.8,-0.7]],
  ["Congo", 14, [11.6,-3.8,14,-2.5,14.5,1.5,13.3,2.2,16,2,17.8,3.6,18,0,16.5,-2,15,-4.4,12,-5]],
  ["DR Congo", 6, [12.2,-6,13,-5.8,15,-4.4,16.5,-2,18,0,17.8,3.6,19,4.3,23.5,4.7,27.5,5,30.8,3.5,29.7,0,29,-2.5,29.5,-6,30.7,-8.3,28.8,-8.5,28.5,-10,29.8,-12,27.5,-11.7,25.5,-11.5,22,-11,22,-9.5,17.5,-8,16.7,-6]],
  ["Angola", 13, [12.2,-6,16.7,-6,17.5,-8,22,-9.5,22,-11,24,-11,22,-13,22,-16.3,23.4,-17.6,21,-18,13.9,-17.4,11.8,-17.3,13.6,-12.5,13.2,-9]],
  ["Uganda", 14, [30.8,3.5,33.8,3.6,35,1.5,33.9,0,33.9,-1,30.5,-1,29.7,0]],
  ["Kenya", 21, [33.8,3.6,35,5,41.5,3.9,41,-1.7,39.3,-4.7,37.7,-3.5,33.9,-1,33.9,0,35,1.5]],
  ["Rwanda", 22, [29,-2.5,30.5,-1,30.8,-2.4,29.5,-2.8]],
  ["Burundi", 14, [29,-2.5,30.8,-2.4,30,-4.4,29.5,-4]],
  ["Tanzania", 6, [30.5,-1,33.9,-1,37.7,-3.5,39.3,-4.7,38.8,-6.5,39.5,-10,40.5,-10.5,38,-11.7,34.9,-11.6,34,-9.5,32.5,-9.2,30.7,-8.3,29.5,-6,30,-4.4,30.8,-2.4]],
  ["Eritrea", 5, [36.5,14.3,38.5,18,39.7,15,43.2,12.5,42,12.5,40,14.5,38,14.5]],
  ["Ethiopia", 6, [36.5,14.3,38,14.5,40,14.5,42,12.5,42.8,11.5,44,9,47.9,8,45,5,41.9,4,41.5,3.9,35,5,33,7.8,34,8,34.3,10.5,36,12.5]],
  ["Somalia", 5, [43.2,11.5,44.5,10.4,51.2,11.9,50.5,9,47.5,4,41.6,-1.7,41,-1.7,41.5,3.9,41.9,4,45,5,47.9,8,44,9,42.8,11.5]],
  ["Zambia", 6, [22,-13,24,-11,25.5,-11.5,27.5,-11.7,29.8,-12,28.5,-10,28.8,-8.5,30.7,-8.3,32.5,-9.2,33.7,-11,33,-14,30.2,-15,29,-15.9,27,-17.9,25,-17.8,23.4,-17.6,22,-16.3]],
  ["Malawi", 5, [32.5,-9.2,34,-9.5,34.9,-11.6,35,-13.5,35.8,-16,35,-17,34.2,-15,33,-14,33.7,-11]],
  ["Mozambique", 6, [34.9,-11.6,38,-11.7,40.5,-10.5,40.7,-15,35,-20,35.5,-24,32.8,-26,32,-26.8,32,-24.5,32.4,-21.3,33,-19.5,33,-16.5,30.2,-15,33,-14,34.2,-15,35,-17,35.8,-16,35,-13.5]],
  ["Zimbabwe", 5, [25.3,-17.8,27,-17.9,29,-15.9,30.2,-15,33,-16.5,33,-19.5,32.4,-21.3,30,-22.3,29.3,-22.2,27,-20.5,25.3,-18]],
  ["Botswana", 6, [20,-18.3,21,-18,23.4,-17.6,25,-17.8,25.3,-18,27,-20.5,29.3,-22.2,27,-23.6,25.5,-25.6,23,-25.3,22,-26.7,20,-24.8,20,-22]],
  ["Namibia", 5, [11.8,-17.3,13.9,-17.4,21,-18,23.4,-17.6,25,-17.8,21,-18.2,20,-18.3,20,-22,20,-28.4,17,-28.5,15,-26.5,14.4,-22]],
  ["South Africa", 14, [17,-28.5,20,-28.4,20,-24.8,22,-26.7,23,-25.3,25.5,-25.6,27,-23.6,29.3,-22.2,31.3,-22.4,32,-24.5,32,-26.8,32.8,-26,32.8,-27.5,31,-29.8,27,-33.8,25,-34,20,-34.8,18.3,-34,18,-32]],
  ["Lesotho", 5, [27,-29.6,28.5,-28.6,29.4,-29.5,28,-30.6]],
  ["Eswatini", 6, [31,-25.8,32,-26.5,31.8,-27.3,31,-26.8]],
  ["Madagascar", 6, [49.3,-12,50.5,-15.5,47.5,-24,45,-25.5,43.5,-23,44.5,-16.5,47,-15]],
  ["Mauritius", 21, [57.4,-20,57.8,-20.2,57.5,-20.5]],
  ["Reunion", 29, [55.2,-20.9,55.8,-21,55.5,-21.4]],
  ["Comoros", 6, [43.2,-11.4,43.5,-11.5,43.3,-11.9]],
  ["Seychelles", 6, [55.3,-4.5,55.6,-4.6,55.4,-4.8]]
];

const oceania = [
  ["Australia", 21, [114,-22,114,-26,115.7,-32,115,-34.3,118,-35,124,-33,129,-31.6,134,-32.8,136,-35,138,-33,137.8,-35.6,140,-38,144,-38.5,147,-38.8,150,-37.5,153,-31,153.5,-27,150.8,-23,146.3,-19,145.3,-15,142.5,-10.8,141.6,-13,141,-17,139.5,-17.5,135.5,-15,136.8,-12.2,132,-11.3,130,-13,129,-15,125.5,-14,122.2,-18,119,-20], [144.7,-40.7,148.3,-40.9,148,-43.2,146,-43.6], [136.5,-35.7,138,-35.7,137.3,-36.1]],
  ["New Zealand", 22, [172.7,-34.5,175,-36.8,178.5,-37.7,177,-39.6,175.3,-41.6,174.8,-39.8,174.7,-38,173.9,-35.8], [172.7,-40.5,174.2,-41.5,172.8,-43.7,170.7,-46,168.5,-46.6,166.5,-46,168.5,-44,171.3,-42], [167.5,-46.8,168.2,-46.9,167.7,-47.2]],
  ["Papua New Guinea", 14, [141,-2.6,145,-4.3,147.8,-6,147,-7,150.5,-10.3,148,-10.2,146,-8.5,143.5,-8.5,143,-9.2,141,-9.1], [148.5,-5.5,152,-4.2,152.3,-5,150,-6.2], [150.8,-2.6,153,-4.5,152.3,-3.5], [154.7,-5.3,155.9,-6.6,155,-6.2]],
  ["Solomon Islands", 14, [156.5,-7,159,-8.2,157.5,-8], [159.7,-9.4,161,-9.8,160,-10], [160.6,-8.4,161.3,-9.5,160.8,-9]],
  ["Vanuatu", 14, [166.6,-15,167.2,-15.2,166.9,-15.7], [167.2,-16,167.8,-16.4,167.3,-16.5], [169.2,-18.7,169.4,-19,169.1,-19]],
  ["New Caledonia", 21, [164,-20.1,167,-22.3,165.5,-21.8]],
  ["Fiji", 21, [177.3,-17.5,178.7,-18,178,-18.3], [178.6,-16.5,180,-16.3,179,-17]]
];

// colour ramp and legend
const legendTitle = "Max. Containment Disc..";
const legendMin = 0;
const legendMax = 40;
const legendTickValues = [0, 40];
const rampColors = ["#eec9e6", "#d5a6c5", "#b983a6", "#976792", "#7c4876"];
const noDataColor = "#ededed";
const chartTitle = "Maximum discrimination (CHI) per country during 2021-2022";
const attribution = "\u00a9 2024 Mapbox \u00a9 OpenStreetMap";

const width = 963, height = 633, mapTop = 55;

const svg = d3.select("#visual").append("svg").attr("width", width).attr("height", height);

const color = d3.scaleQuantize().domain([legendMin, legendMax]).range(rampColors);

// lon 0 sits at x = 448.6, rotated so that Chukotka stays on the right
const projection = d3.geoMercator().scale(147.8).rotate([-12, 0]).translate([448.6 + 12 * 2.5796, 447.4]);
const planar = d3.geoTransform({
  point(x, y) {
    const p = projection([x, y]);
    this.stream.point(p[0], p[1]);
  }
});
const path = d3.geoPath(planar);

const toRing = flat => {
  const ring = d3.range(0, flat.length, 2).map(i => [flat[i], flat[i + 1]]);
  ring.push(ring[0]);
  return ring;
};
const toFeature = ([name, value, ...rings]) => ({
  type: "Feature",
  properties: { name, value },
  geometry: { type: "MultiPolygon", coordinates: rings.map(r => [toRing(r)]) }
});

const features = [...northAmerica, ...southAmerica, ...europe, ...asia, ...africa, ...oceania].map(toFeature);

svg.append("clipPath").attr("id", "map-clip").append("rect")
  .attr("x", 0).attr("y", mapTop).attr("width", width).attr("height", height - mapTop);

svg.append("g").attr("clip-path", "url(#map-clip)")
  .selectAll("path")
  .data(features)
  .join("path")
  .attr("d", path)
  .attr("fill", d => d.properties.value === null ? noDataColor : color(d.properties.value))
  .attr("stroke", d => d.properties.value === null ? "none" : "#757575")
  .attr("stroke-width", 1)
  .attr("stroke-linejoin", "round");

// frame
svg.append("line").attr("x1", 0).attr("x2", width).attr("y1", 54.5).attr("y2", 54.5).attr("stroke", "#e6e6e6");
svg.append("line").attr("x1", 0.5).attr("x2", 0.5).attr("y1", mapTop).attr("y2", height).attr("stroke", "#e6e6e6");

svg.append("text")
  .attr("x", 5).attr("y", 35.5)
  .attr("font-family", "Lato")
  .attr("font-weight", 300)
  .attr("font-size", 25.5)
  .attr("letter-spacing", 0.72)
  .attr("fill", "#3d3d3d")
  .text(chartTitle);

// legend
const legend = svg.append("g");
const legendX = d3.scaleLinear().domain([legendMin, legendMax]).range([13.5, 177.5]);

legend.append("text")
  .attr("x", 9).attr("y", 498)
  .attr("font-family", "Open Sans")
  .attr("font-size", 15)
  .attr("font-weight", 500)
  .attr("fill", "#333")
  .text(legendTitle);

legend.selectAll("rect.step")
  .data(rampColors)
  .join("rect")
  .attr("class", "step")
  .attr("x", d => legendX(color.invertExtent(d)[0]))
  .attr("y", 505.5)
  .attr("width", d => legendX(color.invertExtent(d)[1]) - legendX(color.invertExtent(d)[0]))
  .attr("height", 19)
  .attr("fill", d => d);

legend.append("rect")
  .attr("x", 13.5).attr("y", 505.5).attr("width", 164).attr("height", 19)
  .attr("fill", "none").attr("stroke", "#a89f9f");

legend.selectAll("text.tick")
  .data(legendTickValues)
  .join("text")
  .attr("class", "tick")
  .attr("x", d => d === legendMin ? 14 : 177.5)
  .attr("y", 545)
  .attr("text-anchor", d => d === legendMin ? "start" : "end")
  .attr("font-family", "Open Sans")
  .attr("font-size", 15)
  .attr("fill", "#555")
  .text(d => d3.format(".2f")(d));

// attribution
svg.append("path").attr("d", "M2.5,600V631.5H238").attr("fill", "none").attr("stroke", "#eeeeee");
svg.append("rect").attr("x", 7).attr("y", 610).attr("width", 222).attr("height", 18).attr("fill", "#f8f8f8");
svg.append("text")
  .attr("x", 12).attr("y", 624.5)
  .attr("font-family", "Liberation Sans")
  .attr("font-size", 13.6)
  .attr("fill", "#6e6e6e")
  .text(attribution);
</script>
</body>
</html>
